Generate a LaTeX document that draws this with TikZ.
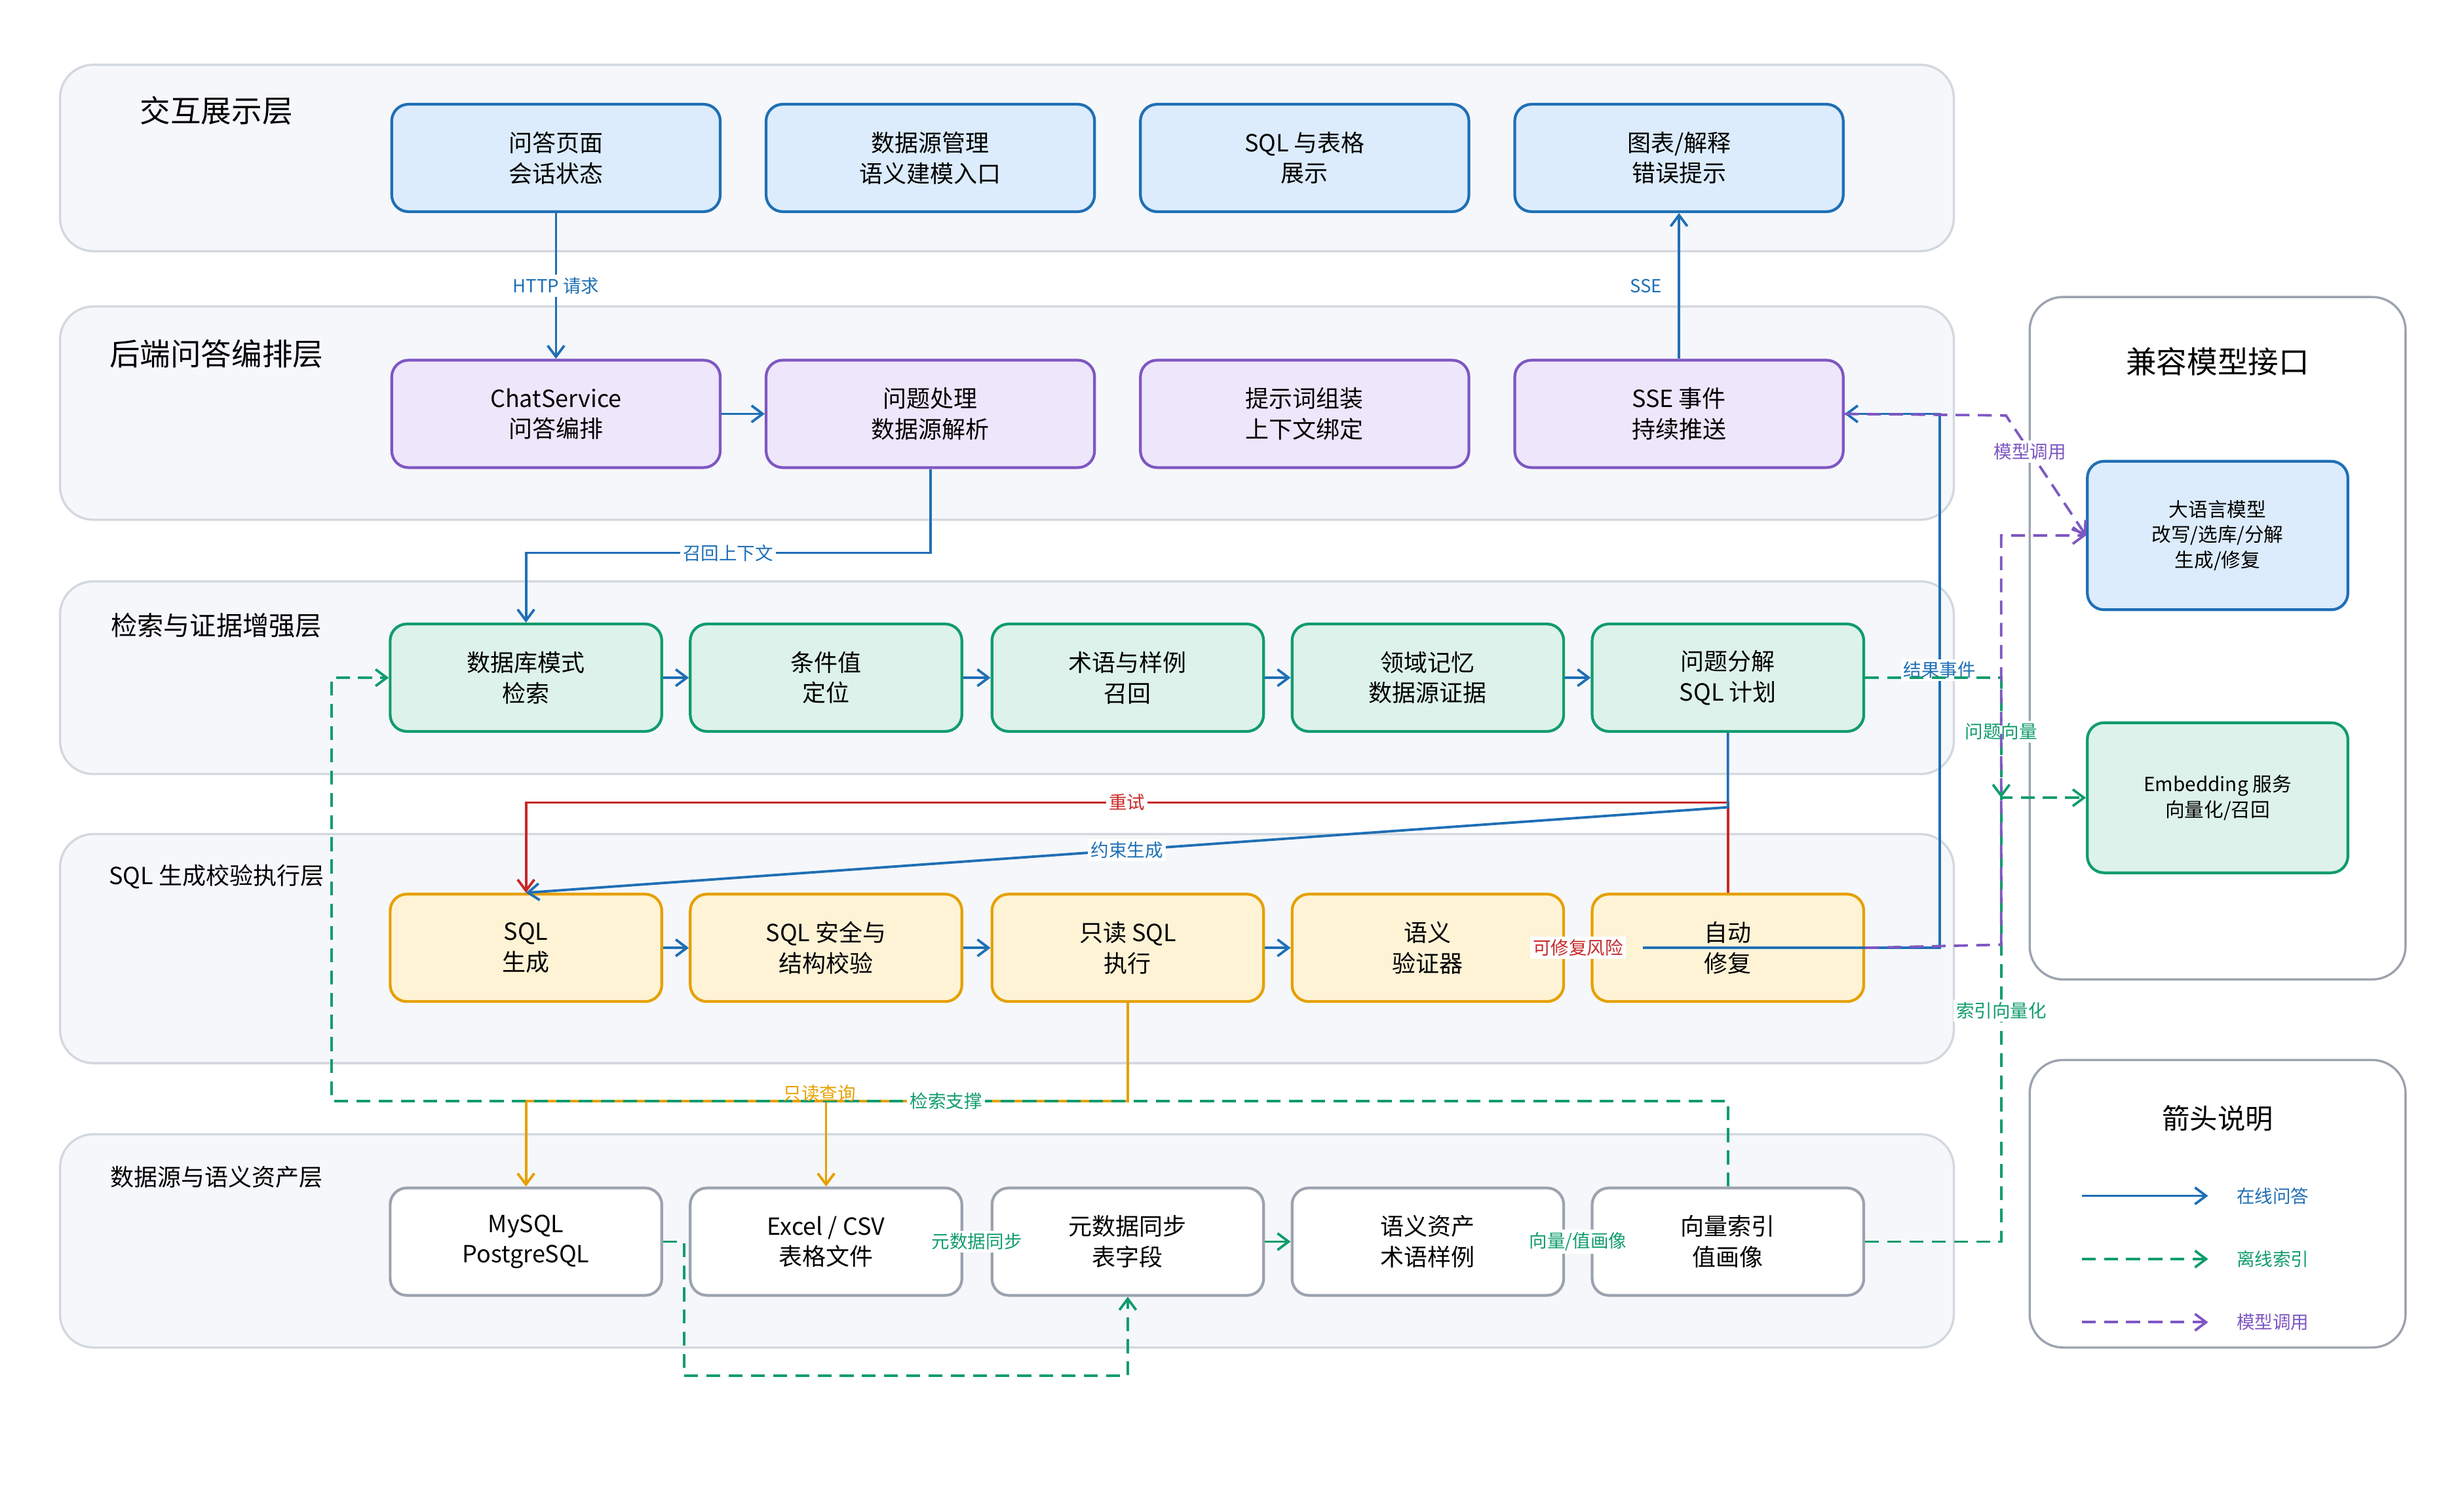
\documentclass[tikz,border=0pt]{standalone}
\usepackage{fontspec}
\setmainfont{Noto Sans CJK SC}
\usetikzlibrary{positioning,arrows.meta}
\definecolor{cblue}{HTML}{1F6FB5}
\definecolor{fblue}{HTML}{DCECFC}
\definecolor{cpurp}{HTML}{7E57C2}
\definecolor{fpurp}{HTML}{EEE6FB}
\definecolor{cgreen}{HTML}{119C6E}
\definecolor{fgreen}{HTML}{DDF2EA}
\definecolor{corange}{HTML}{E6A000}
\definecolor{forange}{HTML}{FFF3D6}
\definecolor{cgray}{HTML}{9CA3AF}
\definecolor{cred}{HTML}{C62828}
\definecolor{laybg}{HTML}{F5F7FA}
\definecolor{layln}{HTML}{D3D8DF}
\tikzset{
  layer/.style={draw=layln, fill=laybg, rounded corners=12pt, line width=0.8pt},
  panel/.style={draw=cgray, fill=white, rounded corners=12pt, line width=0.8pt},
  ltitle/.style={font=\fontsize{11}{13}\selectfont, anchor=center},
  box/.style={rounded corners=6pt, line width=1pt, align=center, minimum height=1.36cm, font=\fontsize{8.5}{11}\selectfont},
  bA/.style={box, draw=cblue, fill=fblue, minimum width=4.16cm},
  bB/.style={box, draw=cpurp, fill=fpurp, minimum width=4.16cm},
  bC/.style={box, draw=cgreen, fill=fgreen, minimum width=3.44cm},
  bD/.style={box, draw=corange, fill=forange, minimum width=3.44cm},
  bE/.style={box, draw=cgray, fill=white, minimum width=3.44cm},
  lab/.style={font=\fontsize{6.5}{7.5}\selectfont, fill=white, inner sep=1pt, anchor=center},
  on/.style={draw=cblue, line width=0.9pt, -{Straight Barb[length=4pt,width=6pt]}},
  off/.style={draw=cgreen, line width=0.9pt, dash pattern=on 5pt off 3pt, -{Straight Barb[length=4pt,width=6pt]}},
  mdl/.style={draw=cpurp, line width=0.9pt, dash pattern=on 5pt off 3pt, -{Straight Barb[length=4pt,width=6pt]}},
}
\begin{document}
\begin{tikzpicture}[x=0.02cm, y=-0.02cm]
\useasboundingbox (0,0) rectangle (1560,946);

% layers
\draw[layer] (38,41) rectangle (1237,159);
\draw[layer] (38,194) rectangle (1237,329);
\draw[layer] (38,368) rectangle (1237,490);
\draw[layer] (38,528) rectangle (1237,673);
\draw[layer] (38,718) rectangle (1237,853);
\node[ltitle] at (137,70) {交互展示层};
\node[ltitle] at (137,224) {后端问答编排层};
\node[ltitle, font=\fontsize{9.5}{11}\selectfont] at (137,396) {检索与证据增强层};
\node[ltitle, font=\fontsize{8.5}{10}\selectfont] at (137,555) {SQL 生成校验执行层};
\node[ltitle, font=\fontsize{8.5}{10}\selectfont] at (137,745) {数据源与语义资产层};

\draw[panel] (1285,188) rectangle (1523,620);
\draw[panel] (1285,671) rectangle (1523,853);
\node[ltitle] at (1404,229) {兼容模型接口};
\node[ltitle, font=\fontsize{10}{12}\selectfont] at (1404,708) {箭头说明};

% row 1
\node[bA] (q1) at (352,100) {问答页面\\会话状态};
\node[bA] (q2) at (589,100) {数据源管理\\语义建模入口};
\node[bA] (q3) at (826,100) {SQL 与表格\\展示};
\node[bA] (q4) at (1063,100) {图表/解释\\错误提示};
% row 2
\node[bB] (c1) at (352,262) {ChatService\\问答编排};
\node[bB] (c2) at (589,262) {问题处理\\数据源解析};
\node[bB] (c3) at (826,262) {提示词组装\\上下文绑定};
\node[bB] (c4) at (1063,262) {SSE 事件\\持续推送};
% row 3
\node[bC] (d1) at (333,429) {数据库模式\\检索};
\node[bC] (d2) at (523,429) {条件值\\定位};
\node[bC] (d3) at (714,429) {术语与样例\\召回};
\node[bC] (d4) at (904,429) {领域记忆\\数据源证据};
\node[bC] (d5) at (1094,429) {问题分解\\SQL 计划};
% row 4
\node[bD] (e1) at (333,600) {SQL\\生成};
\node[bD] (e2) at (523,600) {SQL 安全与\\结构校验};
\node[bD] (e3) at (714,600) {只读 SQL\\执行};
\node[bD] (e4) at (904,600) {语义\\验证器};
\node[bD] (e5) at (1094,600) {自动\\修复};
% row 5
\node[bE] (f1) at (333,786) {MySQL\\PostgreSQL};
\node[bE] (f2) at (523,786) {Excel / CSV\\表格文件};
\node[bE] (f3) at (714,786) {元数据同步\\表字段};
\node[bE] (f4) at (904,786) {语义资产\\术语样例};
\node[bE] (f5) at (1094,786) {向量索引\\值画像};
% model side
\node[bA, minimum width=3.3cm, minimum height=1.88cm, font=\fontsize{7}{9}\selectfont] (llm) at (1404,339) {大语言模型\\改写/选库/分解\\生成/修复};
\node[bC, minimum width=3.3cm, minimum height=1.9cm, font=\fontsize{7}{9}\selectfont] (emb) at (1404,505) {Embedding 服务\\向量化/召回};

% online flow
\draw[on] (q1) -- node[lab, text=cblue] {HTTP 请求} (c1);
\draw[on] (c1) -- (c2);
\draw[on] (c4) -- node[lab, text=cblue, pos=0.5, xshift=-0.42cm] {SSE} (q4);
\draw[on] (c2.south) |- (333,350) node[lab, text=cblue, pos=0.75] {召回上下文} -- (d1.north);
\foreach \a/\b in {d1/d2,d2/d3,d3/d4,d4/d5,e1/e2,e2/e3,e3/e4}
  \draw[on] (\a) -- (\b);
\draw[cred, line width=0.9pt, -{Straight Barb[length=4pt,width=6pt]}] (e5.north) -- (1094,508) -- node[lab, text=cred] {重试} (333,508) -- (e1.north);
\draw[on] (d5.south) -- (1094,511) -- node[lab, text=cblue, pos=0.5] {约束生成} (e1.north);
\draw[cred, line width=0.9pt, -{Straight Barb[length=3pt,width=5pt]}] (e4) -- node[lab, text=cred] {可修复风险} (e5);
\draw[on] (1040,600) -- (1228,600) -- node[lab, text=cblue, pos=0.52] {结果事件} (1228,262) -- (c4.east);
\draw[draw=corange, line width=0.9pt, -{Straight Barb[length=4pt,width=6pt]}] (e3.south) |- (333,697) -- (f1.north);
\draw[draw=corange, line width=0.9pt, -{Straight Barb[length=4pt,width=6pt]}] (523,697) -- (f2.north);

% offline flow
\draw[off] (f5.north) |- node[lab, text=cgreen, pos=0.78] {检索支撑} (210,697) |- (d1.west);
\node[lab, text=corange, fill=none] at (519,692) {只读查询};
\draw[off] (f1.east) -- (433,786) -- (433,871) -| (f3.south);
\draw[off, solid] (f2) -- node[lab, text=cgreen] {元数据同步} (f3);
\draw[off, solid] (f3) -- (f4);
\draw[off, solid] (f4) -- node[lab, text=cgreen] {向量/值画像} (f5);
\draw[off] (f5.east) -- (1267,786) -- node[lab, text=cgreen, pos=0.52] {索引向量化} (1267,505) -- (emb.west);
\draw[off] (d5.east) -- (1267,429) -- node[lab, text=cgreen, pos=0.45] {问题向量} (1267,505);

% model calls
\draw[mdl] (c4.east) -- (1270,263) -- node[lab, text=cpurp, pos=0.3] {模型调用} (llm.west);
\draw[mdl] (e5.east) -- (1267,598) -- (1267,339) -- (llm.west);

% legend
\draw[on] (1318,757) -- (1398,757);
\draw[off] (1318,797) -- (1398,797);
\draw[mdl] (1318,837) -- (1398,837);
\node[lab, text=cblue, anchor=west] at (1414,757) {在线问答};
\node[lab, text=cgreen, anchor=west] at (1414,797) {离线索引};
\node[lab, text=cpurp, anchor=west] at (1414,837) {模型调用};
\end{tikzpicture}
\end{document}
